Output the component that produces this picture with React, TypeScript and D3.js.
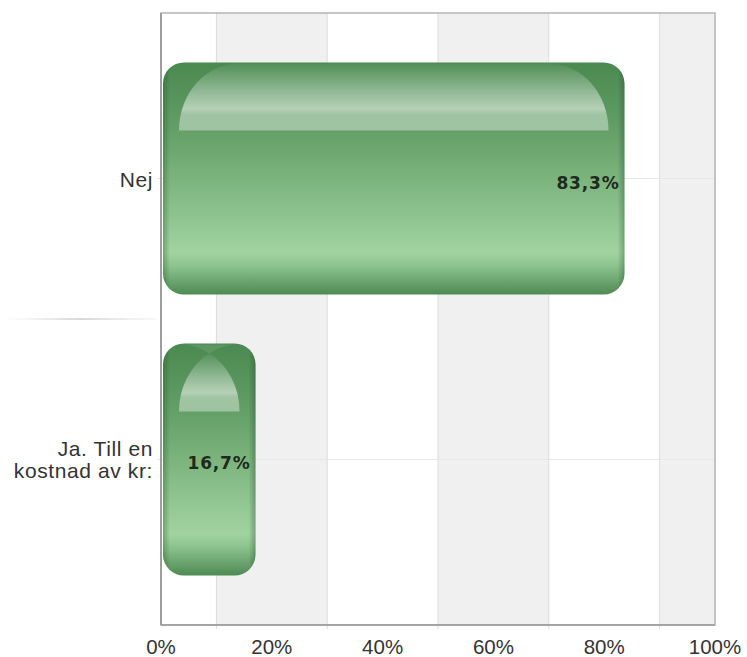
import React from "react";
import * as d3 from "d3";

const categories = ["Nej", "Ja. Till en|kostnad av kr:"];
const values = [0.833, 0.167];
const valueLabels = ["83,3%", "16,7%"];
const tickValues = [0, 0.2, 0.4, 0.6, 0.8, 1.0];
const tickLabels = ["0%", "20%", "40%", "60%", "80%", "100%"];
const gridValues = [0.1, 0.3, 0.5, 0.7, 0.9];
const bandRanges: [number, number][] = [
  [0.1, 0.3],
  [0.5, 0.7],
  [0.9, 1.0],
];

const W = 747;
const H = 657;
const plot = { left: 161, right: 715, top: 13, bottom: 625 };

export default function App() {
  const x = d3.scaleLinear().domain([0, 1]).range([plot.left, plot.right]);
  const y = d3
    .scaleBand<string>()
    .domain(categories)
    .range([plot.top, plot.bottom])
    .paddingInner(0.174)
    .paddingOuter(0.176);
  const bw = y.bandwidth();
  const centers = categories.map((c) => (y(c) as number) + bw / 2);
  const sep = (centers[0] + centers[1]) / 2;
  const labelFont = "'Liberation Sans', Arial, sans-serif";

  const RX = 60;
  const highlight = (x0: number, x1: number, yt: number, yb: number) => {
    const w = x1 - x0;
    const ry = yb - yt;
    if (w >= 2 * RX) {
      return {
        d: `M${x0},${yb} A${RX},${ry} 0 0 1 ${x0 + RX},${yt} L${x1 - RX},${yt} A${RX},${ry} 0 0 1 ${x1},${yb} Z`,
        cross: null as string | null,
      };
    }
    const xm = (x0 + x1) / 2;
    const dx = (xm - (x0 + RX)) / RX;
    const yp = yb - ry * Math.sqrt(1 - dx * dx);
    // continuation of each ellipse past the crossing point up to the opposite edge
    const dxe = (x1 - (x0 + RX)) / RX;
    const ye = yb - ry * Math.sqrt(Math.max(0, 1 - dxe * dxe));
    return {
      d: `M${x0},${yb} A${RX},${ry} 0 0 1 ${xm},${yp} A${RX},${ry} 0 0 1 ${x1},${yb} Z`,
      cross: `M${xm},${yp} A${RX},${ry} 0 0 1 ${x1},${ye} L${x0},${ye} A${RX},${ry} 0 0 1 ${xm},${yp} Z`,
    };
  };

  return (
    <svg
      width={W}
      height={H}
      style={{ position: "absolute", left: 0, top: 0, background: "#fff" }}
    >
      <defs>
        <linearGradient id="barGrad" x1="0" y1="0" x2="0" y2="1">
          <stop offset="0" stopColor="#4a8950" />
          <stop offset="0.3" stopColor="#64a067" />
          <stop offset="0.82" stopColor="#a1d3a1" />
          <stop offset="0.88" stopColor="#8bc28c" />
          <stop offset="1" stopColor="#4e8a53" />
        </linearGradient>
        <linearGradient id="hlGrad" x1="0" y1="0" x2="0" y2="1">
          <stop offset="0" stopColor="#ffffff" stopOpacity="0.04" />
          <stop offset="0.68" stopColor="#ffffff" stopOpacity="0.55" />
          <stop offset="0.75" stopColor="#ffffff" stopOpacity="0.42" />
          <stop offset="1" stopColor="#ffffff" stopOpacity="0.38" />
        </linearGradient>
        <linearGradient id="sepGrad" x1="0" y1="0" x2="1" y2="0">
          <stop offset="0" stopColor="#e0e0e0" stopOpacity="0" />
          <stop offset="0.5" stopColor="#d8d8d8" stopOpacity="1" />
          <stop offset="1" stopColor="#e0e0e0" stopOpacity="0.2" />
        </linearGradient>
        {values.map((v, i) => {
          const x0 = x(0) + 2;
          const x1 = x(v) + 2;
          const w = x1 - x0;
          const e = 7 / w;
          return (
            <linearGradient
              key={i}
              id={`edge${i}`}
              gradientUnits="userSpaceOnUse"
              x1={x0}
              y1={0}
              x2={x1}
              y2={0}
            >
              <stop offset="0" stopColor="#1e4d22" stopOpacity="0.35" />
              <stop offset={e} stopColor="#1e4d22" stopOpacity="0" />
              <stop offset={1 - e} stopColor="#1e4d22" stopOpacity="0" />
              <stop offset="1" stopColor="#1e4d22" stopOpacity="0.35" />
            </linearGradient>
          );
        })}
      </defs>

      {/* background bands */}
      {bandRanges.map(([a, b], i) => (
        <rect
          key={i}
          x={x(a)}
          y={plot.top}
          width={x(b) - x(a)}
          height={plot.bottom - plot.top}
          fill="#f0f0f0"
        />
      ))}
      {/* vertical grid */}
      {gridValues.map((g, i) => (
        <line
          key={i}
          x1={x(g)}
          x2={x(g)}
          y1={plot.top}
          y2={plot.bottom + 4}
          stroke="#dcdcdc"
          strokeWidth={1}
        />
      ))}
      {/* horizontal grid at category centers */}
      {centers.map((c, i) => (
        <line
          key={i}
          x1={plot.left - 4}
          x2={plot.right}
          y1={c}
          y2={c}
          stroke="#e6e6e6"
          strokeWidth={1}
        />
      ))}
      {/* category separator */}
      <rect x={5} y={sep - 1} width={152} height={2} fill="url(#sepGrad)" />

      {/* plot border */}
      <rect
        x={plot.left}
        y={plot.top}
        width={plot.right - plot.left}
        height={plot.bottom - plot.top}
        fill="none"
        stroke="#b4b4b4"
        strokeWidth={1.5}
      />
      <line
        x1={plot.left}
        x2={plot.left}
        y1={plot.top}
        y2={plot.bottom}
        stroke="#999"
        strokeWidth={1.8}
      />
      <line
        x1={plot.left}
        x2={plot.right}
        y1={plot.bottom}
        y2={plot.bottom}
        stroke="#9a9a9a"
        strokeWidth={1.5}
      />

      {/* bars */}
      {values.map((v, i) => {
        const x0 = x(0) + 2;
        const x1 = x(v) + 2;
        const yt = y(categories[i]) as number;
        const hl = highlight(x0 + 16, x1 - 16, yt + 1, yt + 68);
        return (
          <g key={i}>
            <rect
              x={x0}
              y={yt}
              width={x1 - x0}
              height={bw}
              rx={21}
              ry={21}
              fill="url(#barGrad)"
            />
            <rect
              x={x0}
              y={yt}
              width={x1 - x0}
              height={bw}
              rx={21}
              ry={21}
              fill={`url(#edge${i})`}
            />
            {hl.cross && (
              <path d={hl.cross} fill="#ffffff" fillOpacity={0.1} />
            )}
            <path d={hl.d} fill="url(#hlGrad)" />
            <text
              x={x1 - 5}
              y={centers[i] + 10}
              textAnchor="end"
              fontFamily="'DejaVu Sans', Verdana, sans-serif"
              fontWeight="bold"
              fontSize={17}
              letterSpacing={0.8}
              fill="#1f2a1f"
            >
              {valueLabels[i]}
            </text>
          </g>
        );
      })}

      {/* category labels */}
      {categories.map((c, i) => {
        const lines = c.split("|");
        const lh = 22;
        const base = centers[i] + 8 - ((lines.length - 1) * lh) / 2;
        return (
          <text
            key={i}
            textAnchor="end"
            fontFamily={labelFont}
            fontSize={21}
            letterSpacing={0.6}
            fill="#333"
          >
            {lines.map((l, j) => (
              <tspan key={j} x={153} y={base + j * lh}>
                {l}
              </tspan>
            ))}
          </text>
        );
      })}

      {/* x tick labels */}
      {tickValues.map((t, i) => (
        <text
          key={i}
          x={x(t)}
          y={654}
          textAnchor="middle"
          fontFamily={labelFont}
          fontSize={20.5}
          fill="#333"
        >
          {tickLabels[i]}
        </text>
      ))}
    </svg>
  );
}
